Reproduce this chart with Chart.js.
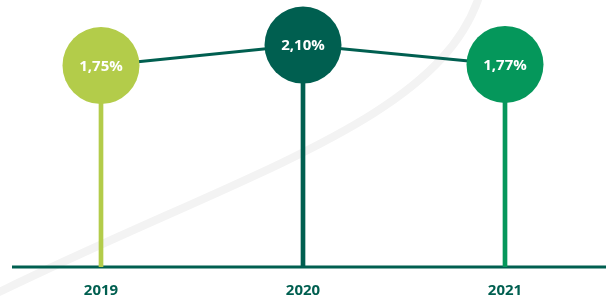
<!DOCTYPE html>
<html>
<head>
<meta charset="utf-8">
<script src="https://cdn.jsdelivr.net/npm/chart.js@4/dist/chart.umd.min.js"></script>
<style>
  html, body { margin: 0; padding: 0; background: #fff; }
  #wrap { width: 606px; height: 299px; position: relative; }
</style>
</head>
<body>
<div id="wrap"><canvas id="chart"></canvas></div>
<script>
    'use strict';

    var years = ['2019', '2020', '2021'];
    var rates = [1.75, 2.10, 1.77];
    var rateLabels = ['1,75%', '2,10%', '1,77%'];
    var dotColors = ['#b3cc4a', '#005f50', '#05975b'];

    var axisMin = -1.69;
    var axisMax = 2.87;
    var darkGreen = '#005f50';

    // faint swoosh behind everything
    var swoosh = {
        id: 'swoosh',
        beforeDraw: function (chart) {
            var ctx = chart.ctx;
            ctx.save();
            ctx.strokeStyle = '#f3f3f3';
            ctx.lineWidth = 8;
            ctx.beginPath();
            ctx.moveTo(-5, 294);
            ctx.bezierCurveTo(250, 170, 440, 120, 480, -6);
            ctx.stroke();
            ctx.restore();
        }
    };

    var baseline = {
        id: 'baseline',
        beforeDatasetsDraw: function (chart) {
            var ctx = chart.ctx, area = chart.chartArea;
            ctx.save();
            ctx.strokeStyle = darkGreen;
            ctx.lineWidth = 3;
            ctx.beginPath();
            ctx.moveTo(area.left + 12, area.bottom);
            ctx.lineTo(area.right, area.bottom);
            ctx.stroke();
            ctx.restore();
        }
    };

    var dotLabels = {
        id: 'dotLabels',
        afterDatasetsDraw: function (chart) {
            var ctx = chart.ctx;
            var meta = chart.getDatasetMeta(0);
            ctx.save();
            ctx.fillStyle = '#ffffff';
            ctx.font = 'bold 15px "Open Sans", sans-serif';
            ctx.textAlign = 'center';
            ctx.textBaseline = 'middle';
            meta.data.forEach(function (pt, i) {
                ctx.fillText(rateLabels[i], pt.x, pt.y + 1);
            });
            ctx.restore();
        }
    };

    var ctx = document.getElementById('chart').getContext('2d');
    window.rateChart = new Chart(ctx, {
        type: 'line',
        data: {
            labels: years,
            datasets: [
                {
                    type: 'line',
                    data: rates,
                    borderColor: darkGreen,
                    borderWidth: 3,
                    pointRadius: 38.5,
                    pointHoverRadius: 38.5,
                    pointBorderWidth: 0,
                    pointBackgroundColor: dotColors,
                    tension: 0,
                    order: 0,
                    clip: false
                },
                {
                    type: 'bar',
                    data: rates.map(function (v) { return [axisMin, v]; }),
                    backgroundColor: dotColors,
                    barThickness: 4,
                    order: 1
                }
            ]
        },
        options: {
            responsive: true,
            maintainAspectRatio: false,
            animation: false,
            events: [],
            layout: { padding: 0, autoPadding: false },
            plugins: {
                legend: { display: false },
                tooltip: { enabled: false }
            },
            scales: {
                x: {
                    offset: true,
                    grid: { display: false, drawTicks: false },
                    border: { display: false },
                    afterFit: function (scale) { scale.height = 32; },
                    ticks: {
                        color: darkGreen,
                        padding: 15,
                        maxRotation: 0,
                        font: { family: '"Open Sans", sans-serif', size: 15, weight: 'bold' }
                    }
                },
                y: {
                    display: false,
                    min: axisMin,
                    max: axisMax
                }
            }
        },
        plugins: [swoosh, baseline, dotLabels]
    });
</script>
</body>
</html>
